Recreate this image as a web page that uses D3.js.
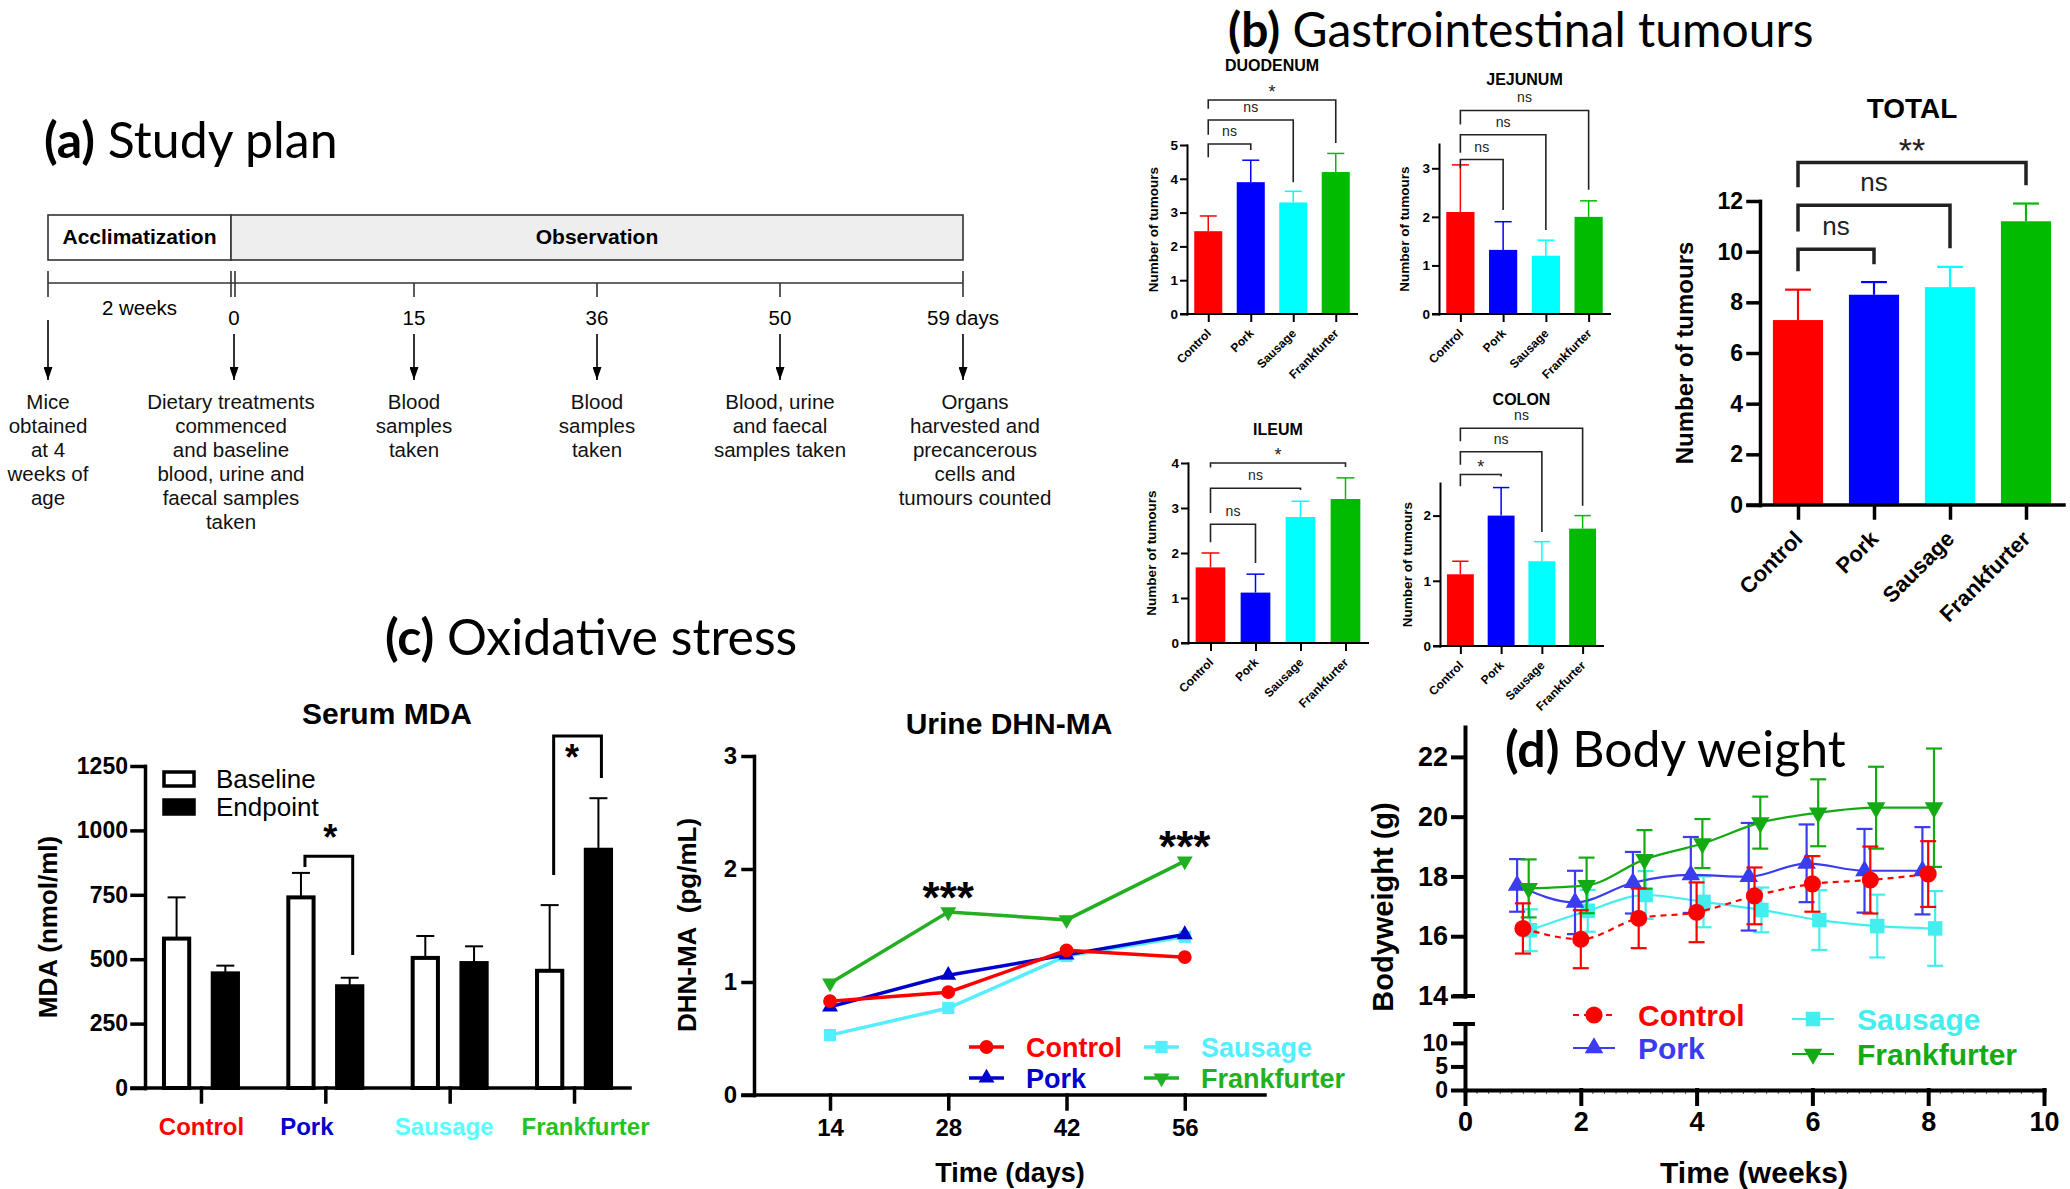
<!DOCTYPE html>
<html>
<head>
<meta charset="utf-8">
<script src="https://cdn.jsdelivr.net/npm/d3@7"></script>
<style>
  body { margin: 0; background: #fff; }
  svg { display: block; }
</style>
</head>
<body>
<svg id="fig" width="2070" height="1189"></svg>
<script>
// ---------------- data ----------------
var groups = ["Control", "Pork", "Sausage", "Frankfurter"];
var barColors = ["#ff0000", "#0000ff", "#00ffff", "#00bb00"];

// (a) study plan
var planDays = [-14, 0, 15, 36, 50, 59];
var planDayLabels = ["", "0", "15", "36", "50", "59 days"];
var planNotes = [
  ["Mice", "obtained", "at 4", "weeks of", "age"],
  ["Dietary treatments", "commenced", "and baseline", "blood, urine and", "faecal samples", "taken"],
  ["Blood", "samples", "taken"],
  ["Blood", "samples", "taken"],
  ["Blood, urine", "and faecal", "samples taken"],
  ["Organs", "harvested and", "precancerous", "cells and", "tumours counted"]
];
var phaseNames = ["Acclimatization", "Observation"];
var phaseStart = [-14, 0];
var phaseEnd = [0, 59];

// (b) tumour counts, mean and SEM
var duodenumMean = [2.45, 3.9, 3.3, 4.2];
var duodenumSem  = [0.45, 0.65, 0.33, 0.55];
var jejunumMean  = [2.1, 1.32, 1.2, 2.0];
var jejunumSem   = [0.97, 0.58, 0.32, 0.33];
var ileumMean    = [1.68, 1.12, 2.8, 3.2];
var ileumSem     = [0.32, 0.41, 0.35, 0.47];
var colonMean    = [1.1, 2.0, 1.3, 1.8];
var colonSem     = [0.2, 0.43, 0.3, 0.2];
var totalMean    = [7.3, 8.3, 8.6, 11.2];
var totalSem     = [1.2, 0.5, 0.8, 0.7];

// brackets: [from, to, level, left end, right end, label]
var duodenumSig = [["Control", "Pork", 5.03, 4.64, 4.85, "ns"], ["Control", "Sausage", 5.74, 5.3, 3.9, "ns"], ["Control", "Frankfurter", 6.33, 6.07, 5.06, "*"]];
var jejunumSig  = [["Control", "Pork", 3.18, 3.0, 2.14, "ns"], ["Control", "Sausage", 3.69, 3.32, 1.73, "ns"], ["Control", "Frankfurter", 4.19, 3.9, 2.56, "ns"]];
var ileumSig    = [["Control", "Pork", 2.64, 2.24, 1.78, "ns"], ["Control", "Sausage", 3.44, 2.89, 3.4, "ns"], ["Control", "Frankfurter", 4.0, 3.9, 3.91, "*"]];
var colonSig    = [["Control", "Pork", 2.63, 2.45, 2.6, "*"], ["Control", "Sausage", 2.98, 2.78, 1.75, "ns"], ["Control", "Frankfurter", 3.34, 3.14, 2.15, "ns"]];
var totalSig    = [["Control", "Pork", 10.1, 9.23, 9.5, "ns"], ["Control", "Sausage", 11.83, 10.8, 10.13, "ns"], ["Control", "Frankfurter", 13.52, 12.54, 12.62, "**"]];

// (c) serum MDA
var mdaPhases = ["Baseline", "Endpoint"];
var mdaBaseline    = [580, 740, 505, 455];
var mdaBaselineSem = [160, 95, 85, 255];
var mdaEndpoint    = [445, 395, 485, 925];
var mdaEndpointSem = [30, 33, 65, 200];
var mdaTicks = [0, 250, 500, 750, 1000, 1250];
// [group, level, left end, right end, label]
var mdaSig = [["Pork", 900, 858, 516, "*"], ["Frankfurter", 1366, 827, 1203, "*"]];

// (c) urine DHN-MA
var urineDays = [14, 28, 42, 56];
var urineControl = [0.83, 0.91, 1.28, 1.22];
var urinePork = [0.78, 1.06, 1.24, 1.42];
var urineSausage = [0.53, 0.77, 1.23, 1.40];
var urineFrank = [0.99, 1.62, 1.55, 2.07];
var urineSigDays = [28, 56];

// (d) body weight, mean and SD
var weeks = [1, 2, 3, 4, 5, 6, 7, 8];
var bwControl = [16.26, 15.9, 16.6, 16.8, 17.35, 17.75, 17.88, 18.08];
var bwControlSd = [0.84, 0.97, 1.0, 1.0, 0.95, 0.93, 1.12, 1.1];
var bwPork = [17.7, 17.13, 17.79, 18.05, 17.99, 18.44, 18.19, 18.19];
var bwPorkSd = [0.88, 1.06, 1.03, 1.27, 1.8, 1.3, 1.4, 1.46];
var bwSausage = [16.2, 16.85, 17.38, 17.15, 16.88, 16.54, 16.34, 16.26];
var bwSausageSd = [0.7, 0.7, 0.8, 0.85, 0.75, 1.0, 1.05, 1.25];
var bwFrank = [17.6, 17.7, 18.57, 19.1, 19.8, 20.13, 20.3, 20.3];
var bwFrankSd = [0.97, 0.93, 0.98, 0.82, 0.87, 1.12, 1.37, 1.98];

// ---------------- drawing ----------------
var SANS = "'Liberation Sans', Arial, Helvetica, sans-serif";
var TITLE = "Lato, 'Open Sans', sans-serif";
var svg = d3.select("#fig");
var fmt = d3.format("d");

svg.append("defs").append("marker")
    .attr("id", "arr").attr("viewBox", "0 0 10 10").attr("refX", 10).attr("refY", 5)
    .attr("markerWidth", 13).attr("markerHeight", 9).attr("markerUnits", "userSpaceOnUse")
    .attr("preserveAspectRatio", "none").attr("orient", "auto")
  .append("path").attr("d", "M0,0L10,5L0,10Z").attr("fill", "#000");

function panelTitle(x, y, letter, text, size) {
    var t = svg.append("text").attr("x", x).attr("y", y)
        .attr("font-family", TITLE).attr("font-size", size || 50).attr("fill", "#000");
    t.append("tspan").attr("font-weight", "bold").text("(" + letter + ")");
    t.append("tspan").text(" " + text);
}

function styleAxis(g, fs, sw) {
    g.attr("font-family", SANS).attr("font-size", fs).attr("font-weight", "bold");
    g.selectAll("path, line").attr("stroke", "#000").attr("stroke-width", sw).attr("stroke-linecap", "square");
    g.selectAll("text").attr("fill", "#000");
}

// ---- (a) study plan ----
panelTitle(44, 158, "a", "Study plan");

var plan = d3.scalePoint().domain(planDays.map(String)).range([48, 963]);
var px = function(d) { return plan(String(d)); };

svg.selectAll(".phase").data(phaseNames).join("rect")
    .attr("x", (d, i) => px(phaseStart[i]))
    .attr("y", 215)
    .attr("width", (d, i) => px(phaseEnd[i]) - px(phaseStart[i]))
    .attr("height", 45)
    .attr("fill", (d, i) => i ? "#eeeeee" : "#fff")
    .attr("stroke", "#333").attr("stroke-width", 1.6);
svg.selectAll(".phaseLbl").data(phaseNames).join("text")
    .attr("x", (d, i) => (px(phaseStart[i]) + px(phaseEnd[i])) / 2)
    .attr("y", 244)
    .attr("text-anchor", "middle").attr("font-family", SANS).attr("font-size", 21).attr("font-weight", "bold")
    .text(d => d);

var tl = svg.append("g").attr("stroke", "#333").attr("stroke-width", 1.6);
tl.append("line").attr("x1", px(-14)).attr("x2", px(59)).attr("y1", 283).attr("y2", 283);
tl.selectAll(".tk").data(planDays).join("line")
    .attr("x1", d => px(d)).attr("x2", d => px(d))
    .attr("y1", d => (d === -14 || d === 0 || d === 59) ? 271 : 283)
    .attr("y2", 297);
tl.append("line").attr("x1", px(0) + 4).attr("x2", px(0) + 4).attr("y1", 271).attr("y2", 297);

svg.append("text").attr("x", (px(-14) + px(0)) / 2).attr("y", 315)
    .attr("text-anchor", "middle").attr("font-family", SANS).attr("font-size", 20.5).text("2 weeks");

svg.selectAll(".dayLbl").data(planDays).join("text")
    .attr("x", d => px(d) + (d === 0 ? 3 : 0)).attr("y", 325)
    .attr("text-anchor", "middle").attr("font-family", SANS).attr("font-size", 20.5)
    .text((d, i) => planDayLabels[i]);

svg.selectAll(".arrow").data(planDays).join("line")
    .attr("x1", d => px(d) + (d === 0 ? 3 : 0)).attr("x2", d => px(d) + (d === 0 ? 3 : 0))
    .attr("y1", (d, i) => planDayLabels[i] ? 334 : 320).attr("y2", 380)
    .attr("stroke", "#000").attr("stroke-width", 1.6).attr("marker-end", "url(#arr)");

svg.selectAll(".note").data(planNotes).join("text")
    .attr("text-anchor", "middle").attr("font-family", SANS).attr("font-size", 20.5).attr("fill", "#111")
    .each(function(lines, i) {
        var x = px(planDays[i]) + (i === 5 ? 12 : 0);
        d3.select(this).selectAll("tspan").data(lines).join("tspan")
            .attr("x", x).attr("y", (d, k) => 409 + k * 24).text(d => d);
    });

// ---- (b) gastrointestinal tumours ----
panelTitle(1228, 47, "b", "Gastrointestinal tumours", 48);

function barPanel(o) {
    var g = svg.append("g");
    var x = d3.scalePoint().domain(groups).range([o.left, o.right]).padding(0.5);
    var y = d3.scaleLinear().domain([0, o.ymax]).range([o.bottom, o.top]);
    var bw = x.step() * 0.66, cap = x.step() * o.capFrac;

    g.selectAll(".bar").data(o.mean).join("rect")
        .attr("x", (d, i) => x(groups[i]) - bw / 2)
        .attr("y", d => y(d))
        .attr("width", bw)
        .attr("height", d => y(0) - y(d))
        .attr("fill", (d, i) => barColors[i]);

    var eb = g.selectAll(".eb").data(o.mean).join("g")
        .attr("stroke", (d, i) => barColors[i]).attr("stroke-width", o.ebw);
    eb.append("line")
        .attr("x1", (d, i) => x(groups[i])).attr("x2", (d, i) => x(groups[i]))
        .attr("y1", d => y(d)).attr("y2", (d, i) => y(d + o.sem[i]));
    eb.append("line")
        .attr("x1", (d, i) => x(groups[i]) - cap / 2).attr("x2", (d, i) => x(groups[i]) + cap / 2)
        .attr("y1", (d, i) => y(d + o.sem[i])).attr("y2", (d, i) => y(d + o.sem[i]));

    var ya = g.append("g").attr("transform", "translate(" + o.left + ",0)")
        .call(d3.axisLeft(y).tickValues(o.ticks).tickFormat(fmt).tickSize(o.tick).tickSizeOuter(0).tickPadding(o.tickPad));
    styleAxis(ya, o.fs, o.axw);

    var xa = g.append("g").attr("transform", "translate(0," + o.bottom + ")")
        .call(d3.axisBottom(x).tickSize(o.tick + 1).tickSizeOuter(0));
    styleAxis(xa, o.xfs, o.axw);
    xa.select(".domain").attr("d", "M" + (o.left - o.tick) + ",0H" + o.right);
    xa.selectAll("text")
        .attr("x", 0).attr("y", 0).attr("dy", "0.72em")
        .attr("text-anchor", "end")
        .attr("transform", "translate(" + o.lblDx + "," + o.lblDy + ") rotate(-45)");

    g.append("text")
        .attr("transform", "translate(" + (o.left - o.ylOff) + "," + ((o.top + o.bottom) / 2) + ") rotate(-90)")
        .attr("text-anchor", "middle").attr("font-family", SANS).attr("font-size", o.ylfs).attr("font-weight", "bold")
        .text("Number of tumours");

    g.append("text").attr("x", (o.left + o.right) / 2).attr("y", o.titleY)
        .attr("text-anchor", "middle").attr("dy", "0.36em")
        .attr("font-family", SANS).attr("font-size", o.tfs).attr("font-weight", "bold")
        .text(o.title);

    var br = g.selectAll(".sig").data(o.sig).join("g");
    br.append("path")
        .attr("d", d => "M" + x(d[0]) + "," + y(d[3]) + "V" + y(d[2]) + "H" + x(d[1]) + "V" + y(d[4]))
        .attr("fill", "none").attr("stroke", "#222").attr("stroke-width", o.brw);
    br.append("text")
        .attr("x", d => (x(d[0]) + x(d[1])) / 2)
        .attr("y", d => y(d[2]) - (d[5] === "ns" ? o.nsOff : o.starOff))
        .attr("text-anchor", "middle").attr("font-family", SANS)
        .attr("font-size", d => d[5] === "ns" ? o.nsfs : o.starfs)
        .attr("fill", "#222")
        .text(d => d[5]);
}

var small = {tick: 6, tickPad: 3, fs: 13.5, xfs: 12, axw: 2, ebw: 1.5, capFrac: 0.4, ylfs: 13.5, tfs: 16,
             lblDx: -3, lblDy: 14, brw: 1.6, nsfs: 14, starfs: 18, nsOff: 8, starOff: 2};

barPanel(Object.assign({}, small, {title: "DUODENUM", titleY: 65, left: 1187, right: 1357, top: 145, bottom: 314,
    ymax: 5, ticks: [0, 1, 2, 3, 4, 5], mean: duodenumMean, sem: duodenumSem, sig: duodenumSig, ylOff: 29}));
barPanel(Object.assign({}, small, {title: "JEJUNUM", titleY: 79, left: 1439, right: 1610, top: 144, bottom: 314,
    ymax: 3.5, ticks: [0, 1, 2, 3], mean: jejunumMean, sem: jejunumSem, sig: jejunumSig, ylOff: 30}));
barPanel(Object.assign({}, small, {title: "ILEUM", titleY: 429, left: 1188, right: 1368, top: 463, bottom: 643,
    ymax: 4, ticks: [0, 1, 2, 3, 4], mean: ileumMean, sem: ileumSem, sig: ileumSig, ylOff: 32}));
barPanel(Object.assign({}, small, {title: "COLON", titleY: 399, left: 1440, right: 1603, top: 483, bottom: 646,
    ymax: 2.5, ticks: [0, 1, 2], mean: colonMean, sem: colonSem, sig: colonSig, ylOff: 28}));
barPanel({title: "TOTAL", titleY: 108, left: 1760, right: 2064, top: 201, bottom: 505,
    ymax: 12, ticks: [0, 2, 4, 6, 8, 10, 12], mean: totalMean, sem: totalSem, sig: totalSig, ylOff: 67,
    tick: 12, tickPad: 5, fs: 23, xfs: 22, axw: 3.5, ebw: 2.2, capFrac: 0.34, ylfs: 24, tfs: 28,
    lblDx: -6, lblDy: 24, brw: 3.5, nsfs: 26, starfs: 34, nsOff: 14, starOff: 0});

// ---- (c) oxidative stress ----
panelTitle(385, 655, "c", "Oxidative stress");

// serum MDA
(function() {
    var g = svg.append("g");
    var x = d3.scalePoint().domain(groups).range([145, 630]).padding(0.45);
    var xs = d3.scaleBand().domain(mdaPhases).range([-39, 39]).paddingInner(0.4);
    var y = d3.scaleLinear().domain([0, 1250]).range([1088, 766]);
    var bw = xs.bandwidth();
    var series = [
        {phase: "Baseline", mean: mdaBaseline, sem: mdaBaselineSem, fill: "#fff"},
        {phase: "Endpoint", mean: mdaEndpoint, sem: mdaEndpointSem, fill: "#000"}
    ];
    series.forEach(function(s) {
        var sg = g.append("g");
        sg.selectAll("line.e").data(s.mean).join("line")
            .attr("x1", (d, i) => x(groups[i]) + xs(s.phase) + bw / 2)
            .attr("x2", (d, i) => x(groups[i]) + xs(s.phase) + bw / 2)
            .attr("y1", d => y(d)).attr("y2", (d, i) => y(d + s.sem[i]))
            .attr("stroke", "#000").attr("stroke-width", 2);
        sg.selectAll("line.c").data(s.mean).join("line")
            .attr("x1", (d, i) => x(groups[i]) + xs(s.phase) + bw / 2 - 9)
            .attr("x2", (d, i) => x(groups[i]) + xs(s.phase) + bw / 2 + 9)
            .attr("y1", (d, i) => y(d + s.sem[i])).attr("y2", (d, i) => y(d + s.sem[i]))
            .attr("stroke", "#000").attr("stroke-width", 2);
        sg.selectAll("rect").data(s.mean).join("rect")
            .attr("x", (d, i) => x(groups[i]) + xs(s.phase) + 2)
            .attr("y", d => y(d))
            .attr("width", bw - 4)
            .attr("height", d => y(0) - y(d))
            .attr("fill", s.fill).attr("stroke", "#000").attr("stroke-width", 4);
    });

    var ya = g.append("g").attr("transform", "translate(145,0)")
        .call(d3.axisLeft(y).tickValues(mdaTicks).tickFormat(fmt).tickSize(13).tickSizeOuter(0).tickPadding(4));
    styleAxis(ya, 23, 3.5);
    var xa = g.append("g").attr("transform", "translate(0,1088)")
        .call(d3.axisBottom(x).tickSize(14).tickSizeOuter(0).tickPadding(16));
    styleAxis(xa, 24, 3.5);
    xa.select(".domain").attr("d", "M132,0H630");
    var lblColors = ["#ff0000", "#0000c8", "#55ffff", "#22c322"];
    var lblShift = [0, -19, -6, 11];
    xa.selectAll("text").attr("fill", (d, i) => lblColors[i]).attr("dx", (d, i) => lblShift[i]);

    g.append("text").attr("transform", "translate(48,927) rotate(-90)")
        .attr("text-anchor", "middle").attr("dy", "0.36em")
        .attr("font-family", SANS).attr("font-size", 26).attr("font-weight", "bold")
        .text("MDA (nmol/ml)");
    g.append("text").attr("x", 387).attr("y", 713).attr("dy", "0.36em")
        .attr("text-anchor", "middle").attr("font-family", SANS).attr("font-size", 30).attr("font-weight", "bold")
        .text("Serum MDA");

    // legend
    var lg = g.append("g").attr("font-family", SANS).attr("font-size", 26);
    series.forEach(function(s, k) {
        lg.append("rect").attr("x", 164).attr("y", 772 + k * 28).attr("width", 30).attr("height", 14)
            .attr("fill", s.fill).attr("stroke", "#000").attr("stroke-width", 3.5);
        lg.append("text").attr("x", 216).attr("y", 779 + k * 28).attr("dy", "0.36em").text(s.phase);
    });

    // brackets
    var br = g.selectAll(".sig").data(mdaSig).join("g");
    br.append("path")
        .attr("d", d => "M" + (x(d[0]) + xs("Baseline") + bw / 2 + 4) + "," + y(d[2]) + "V" + y(d[1]) +
                       "H" + (x(d[0]) + xs("Endpoint") + bw / 2 + 3) + "V" + y(d[3]))
        .attr("fill", "none").attr("stroke", "#000").attr("stroke-width", 3);
    br.append("text")
        .attr("x", d => x(d[0]) + (d[0] === "Frankfurter" ? -2 : 5))
        .attr("y", d => d[0] === "Frankfurter" ? y(d[1]) + 34 : y(d[1]) - 6)
        .attr("text-anchor", "middle").attr("font-family", SANS).attr("font-size", 36).attr("font-weight", "bold")
        .text(d => d[4]);
})();

// marker helper
function marker(type, size) {
    var sym = {circle: d3.symbolCircle, up: d3.symbolTriangle, square: d3.symbolSquare, down: d3.symbolTriangle}[type];
    return d3.symbol().type(sym).size(size)();
}

// urine DHN-MA
(function() {
    var g = svg.append("g");
    var x = d3.scaleLinear().domain([5, 65.5]).range([754, 1265]);
    var y = d3.scaleLinear().domain([0, 3]).range([1095, 756]);
    var series = [
        {name: "Control", v: urineControl, color: "#ff0000", m: "circle", size: 150},
        {name: "Pork", v: urinePork, color: "#0000cc", m: "up", size: 110},
        {name: "Sausage", v: urineSausage, color: "#55eeff", m: "square", size: 150},
        {name: "Frankfurter", v: urineFrank, color: "#22b022", m: "down", size: 110}
    ];
    var line = d3.line().x((d, i) => x(urineDays[i])).y(d => y(d));
    var draw = [series[2], series[1], series[0], series[3]];
    draw.forEach(function(s) {
        g.append("path").attr("d", line(s.v)).attr("fill", "none").attr("stroke", s.color).attr("stroke-width", 3.5);
        g.selectAll(null).data(s.v).join("path")
            .attr("d", marker(s.m, s.size))
            .attr("transform", (d, i) => "translate(" + x(urineDays[i]) + "," + y(d) + ")" + (s.m === "down" ? " rotate(180)" : ""))
            .attr("fill", s.color);
    });

    var ya = g.append("g").attr("transform", "translate(754,0)")
        .call(d3.axisLeft(y).tickValues([0, 1, 2, 3]).tickFormat(fmt).tickSize(11).tickSizeOuter(0).tickPadding(6));
    styleAxis(ya, 24, 3.5);
    var xa = g.append("g").attr("transform", "translate(0,1095)")
        .call(d3.axisBottom(x).tickValues(urineDays).tickSize(14).tickSizeOuter(0).tickPadding(10));
    styleAxis(xa, 24, 3.5);
    xa.select(".domain").attr("d", "M743,0H1265");

    g.append("text").attr("transform", "translate(687,925) rotate(-90)")
        .attr("text-anchor", "middle").attr("dy", "0.36em")
        .attr("font-family", SANS).attr("font-size", 26).attr("font-weight", "bold").attr("xml:space", "preserve")
        .text("DHN-MA  (pg/mL)");
    g.append("text").attr("x", 1010).attr("y", 1172).attr("dy", "0.36em")
        .attr("text-anchor", "middle").attr("font-family", SANS).attr("font-size", 27).attr("font-weight", "bold")
        .text("Time (days)");
    g.append("text").attr("x", 1009).attr("y", 723).attr("dy", "0.36em")
        .attr("text-anchor", "middle").attr("font-family", SANS).attr("font-size", 30).attr("font-weight", "bold")
        .text("Urine DHN-MA");

    g.selectAll(".sig").data(urineSigDays).join("text")
        .attr("x", d => x(d)).attr("y", d => y(urineFrank[urineDays.indexOf(d)]) + 1)
        .attr("text-anchor", "middle").attr("font-family", SANS).attr("font-size", 44).attr("font-weight", "bold")
        .text("***");

    // legend
    var lx = [969, 969, 1144, 1144], ly = [1047, 1078, 1047, 1078];
    series.forEach(function(s, k) {
        g.append("line").attr("x1", lx[k]).attr("x2", lx[k] + 35).attr("y1", ly[k]).attr("y2", ly[k])
            .attr("stroke", s.color).attr("stroke-width", 3.5);
        g.append("path").attr("d", marker(s.m, s.size))
            .attr("transform", "translate(" + (lx[k] + 17.5) + "," + ly[k] + ")" + (s.m === "down" ? " rotate(180)" : ""))
            .attr("fill", s.color);
        g.append("text").attr("x", lx[k] + 57).attr("y", ly[k]).attr("dy", "0.36em")
            .attr("font-family", SANS).attr("font-size", 27).attr("font-weight", "bold").attr("fill", s.color)
            .text(s.name);
    });
})();

// ---- (d) body weight ----
(function() {
    var g = svg.append("g");
    var x = d3.scaleLinear().domain([0, 10]).range([1465, 2044]);
    var yUp = d3.scaleLinear().domain([14, 23]).range([996, 727]);
    var yLow = d3.scaleLinear().domain([0, 14]).range([1090, 1024]);
    var series = [
        {name: "Sausage", v: bwSausage, sd: bwSausageSd, color: "#44eeee", m: "square", size: 210, dx: 0.12},
        {name: "Pork", v: bwPork, sd: bwPorkSd, color: "#3b3bf0", m: "up", size: 150, dx: -0.1},
        {name: "Frankfurter", v: bwFrank, sd: bwFrankSd, color: "#14aa14", m: "down", size: 150, dx: 0.1},
        {name: "Control", v: bwControl, sd: bwControlSd, color: "#ff0000", m: "circle", size: 230, dx: 0, dash: "6,5"}
    ];
    series.forEach(function(s) {
        var xp = (d, i) => x(weeks[i] + s.dx);
        var line = d3.line().x(xp).y(d => yUp(d)).curve(d3.curveMonotoneX);
        var eg = g.append("g").attr("stroke", s.color).attr("stroke-width", 2.2);
        eg.selectAll("line.v").data(s.v).join("line")
            .attr("x1", xp).attr("x2", xp)
            .attr("y1", (d, i) => yUp(d - s.sd[i])).attr("y2", (d, i) => yUp(d + s.sd[i]));
        [-1, 1].forEach(function(sign) {
            eg.selectAll(null).data(s.v).join("line")
                .attr("x1", (d, i) => xp(d, i) - 8).attr("x2", (d, i) => xp(d, i) + 8)
                .attr("y1", (d, i) => yUp(d + sign * s.sd[i])).attr("y2", (d, i) => yUp(d + sign * s.sd[i]));
        });
        g.append("path").attr("d", line(s.v)).attr("fill", "none").attr("stroke", s.color)
            .attr("stroke-width", 2.2).attr("stroke-dasharray", s.dash || null);
        g.selectAll(null).data(s.v).join("path")
            .attr("d", marker(s.m, s.size))
            .attr("transform", (d, i) => "translate(" + xp(d, i) + "," + yUp(d) + ")" + (s.m === "down" ? " rotate(180)" : ""))
            .attr("fill", s.color);
    });

    var yaU = g.append("g").attr("transform", "translate(1465,0)")
        .call(d3.axisLeft(yUp).tickValues([14, 16, 18, 20, 22]).tickSize(12).tickSizeOuter(0).tickPadding(5));
    styleAxis(yaU, 27, 4);
    var yaL = g.append("g").attr("transform", "translate(1465,0)")
        .call(d3.axisLeft(yLow).tickValues([0, 5, 10]).tickSize(12).tickSizeOuter(0).tickPadding(5));
    styleAxis(yaL, 23, 4);
    // break marks
    g.append("line").attr("x1", 1453).attr("x2", 1475).attr("y1", yUp(14)).attr("y2", yUp(14)).attr("stroke", "#000").attr("stroke-width", 4);
    g.append("line").attr("x1", 1453).attr("x2", 1475).attr("y1", yLow(14)).attr("y2", yLow(14)).attr("stroke", "#000").attr("stroke-width", 4);

    var xm = g.append("g").attr("transform", "translate(0,1090)")
        .call(d3.axisBottom(x).tickValues(d3.range(0, 10.001, 0.2)).tickSize(4).tickFormat(""));
    xm.select(".domain").remove();
    xm.selectAll("line").attr("stroke", "#555").attr("stroke-width", 1);
    var xa = g.append("g").attr("transform", "translate(0,1090)")
        .call(d3.axisBottom(x).tickValues([0, 2, 4, 6, 8, 10]).tickSize(14).tickSizeOuter(0).tickPadding(8));
    styleAxis(xa, 27, 4);

    g.append("text").attr("transform", "translate(1383,907) rotate(-90)")
        .attr("text-anchor", "middle").attr("dy", "0.36em")
        .attr("font-family", SANS).attr("font-size", 29).attr("font-weight", "bold")
        .text("Bodyweight (g)");
    g.append("text").attr("x", 1754).attr("y", 1172).attr("dy", "0.36em")
        .attr("text-anchor", "middle").attr("font-family", SANS).attr("font-size", 30).attr("font-weight", "bold")
        .text("Time (weeks)");

    // legend
    var order = [series[3], series[1], series[0], series[2]];
    var lx = [1573, 1573, 1792, 1792], ly = [1015, 1048, 1019, 1054];
    order.forEach(function(s, k) {
        g.append("line").attr("x1", lx[k]).attr("x2", lx[k] + 42).attr("y1", ly[k]).attr("y2", ly[k])
            .attr("stroke", s.color).attr("stroke-width", 2.2).attr("stroke-dasharray", s.dash || null);
        g.append("path").attr("d", marker(s.m, s.size))
            .attr("transform", "translate(" + (lx[k] + 21) + "," + ly[k] + ")" + (s.m === "down" ? " rotate(180)" : ""))
            .attr("fill", s.color);
        g.append("text").attr("x", lx[k] + 65).attr("y", ly[k]).attr("dy", "0.36em")
            .attr("font-family", SANS).attr("font-size", 30).attr("font-weight", "bold").attr("fill", s.color)
            .text(s.name);
    });
})();

panelTitle(1505, 767, "d", "Body weight");
</script>
</body>
</html>
